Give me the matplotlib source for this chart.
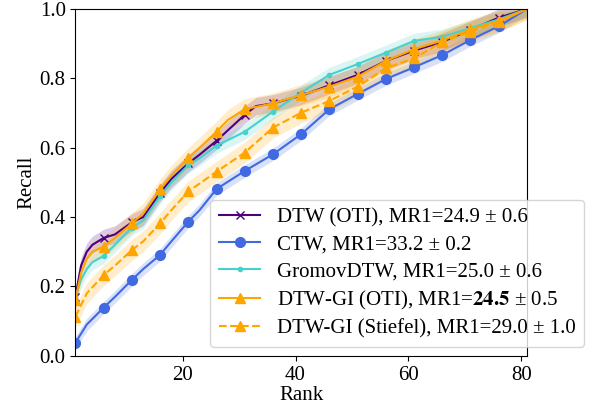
import matplotlib
matplotlib.use("Agg")
import matplotlib.pyplot as plt
import numpy as np

plt.rcParams['font.family'] = ['Liberation Serif', 'DejaVu Serif']
plt.rcParams['mathtext.fontset'] = 'stix'

# ---- data ----
dtw_oti_rank = [1, 2, 3, 4, 6, 8, 11, 13, 16, 18, 21, 23, 26, 28, 31, 33, 36, 41, 46, 51, 56, 61, 66, 71, 76, 81]
dtw_oti_val = [0.17, 0.26, 0.30, 0.32, 0.34, 0.35, 0.385, 0.40, 0.47, 0.51, 0.555, 0.58, 0.62, 0.65, 0.695, 0.72,
               0.728, 0.75, 0.78, 0.81, 0.85, 0.88, 0.905, 0.94, 0.975, 1.0]
dtw_oti_std = 0.025

ctw_rank = [1, 3, 6, 8, 11, 13, 16, 18, 21, 23, 26, 31, 36, 41, 46, 51, 56, 61, 66, 71, 76, 81]
ctw_val = [0.038, 0.09, 0.139, 0.17, 0.219, 0.25, 0.291, 0.33, 0.387, 0.42, 0.481, 0.533, 0.581, 0.639, 0.711,
           0.755, 0.798, 0.832, 0.867, 0.911, 0.95, 1.0]
ctw_std = 0.018

gromov_rank = [1, 2, 3, 4, 6, 8, 11, 13, 16, 18, 21, 23, 26, 31, 36, 41, 46, 51, 56, 61, 66, 71, 76, 81]
gromov_val = [0.17, 0.22, 0.25, 0.27, 0.288, 0.32, 0.37, 0.39, 0.46, 0.50, 0.55, 0.57, 0.606, 0.646, 0.704, 0.759,
              0.81, 0.841, 0.874, 0.908, 0.92, 0.945, 0.97, 1.0]
gromov_std = 0.022

gi_oti_rank = [1, 2, 3, 4, 6, 8, 11, 13, 16, 18, 21, 23, 26, 28, 31, 36, 41, 46, 51, 56, 61, 66, 71, 76, 81]
gi_oti_val = [0.16, 0.24, 0.28, 0.30, 0.315, 0.34, 0.382, 0.41, 0.48, 0.52, 0.570, 0.60, 0.646, 0.68, 0.711, 0.728,
              0.752, 0.776, 0.805, 0.850, 0.884, 0.909, 0.941, 0.966, 1.0]
gi_oti_std = 0.03

gi_st_rank = [1, 3, 6, 8, 11, 13, 16, 18, 21, 26, 31, 36, 41, 46, 51, 56, 61, 66, 71, 76, 81]
gi_st_val = [0.113, 0.18, 0.233, 0.26, 0.305, 0.33, 0.382, 0.42, 0.474, 0.531, 0.586, 0.658, 0.701, 0.735, 0.776,
             0.829, 0.858, 0.905, 0.935, 0.963, 1.0]
gi_st_std = 0.03

labels = ["DTW (OTI), MR1=24.9 ± 0.6",
          "CTW, MR1=33.2 ± 0.2",
          "GromovDTW, MR1=25.0 ± 0.6",
          r"DTW-GI (OTI), MR1=$\mathbf{24.5}$ ± 0.5",
          "DTW-GI (Stiefel), MR1=29.0 ± 1.0"]

series = [
    (dtw_oti_rank, dtw_oti_val, dtw_oti_std, 'indigo', 'x', 6, '-'),
    (ctw_rank, ctw_val, ctw_std, 'royalblue', 'o', 7, '-'),
    (gromov_rank, gromov_val, gromov_std, 'mediumturquoise', '.', 6, '-'),
    (gi_oti_rank, gi_oti_val, gi_oti_std, 'orange', '^', 7, '-'),
    (gi_st_rank, gi_st_val, gi_st_std, 'orange', '^', 7, '--'),
]

fig = plt.figure(figsize=(5.94, 4.09), dpi=100)
ax = fig.add_axes([0.127, 0.130, 0.760, 0.848])

for (r, v, s, c, m, ms, ls), lab in zip(series, labels):
    r = np.array(r)
    v = np.array(v)
    ax.fill_between(r, np.clip(v - s, 0, 1), np.clip(v + s, 0, 1), color=c, alpha=0.2, linewidth=0)
    idx = [i for i, rr in enumerate(r) if (rr - 1) % 5 == 0 and rr <= 76]
    ax.plot(r, v, color=c, linestyle=ls, marker=m, markersize=ms, markevery=idx, linewidth=1.5, label=lab)

ax.set_xlim(1, 81)
ax.set_ylim(0, 1)
ax.set_xticks([20, 40, 60, 80])
ax.set_yticks([0.0, 0.2, 0.4, 0.6, 0.8, 1.0])
ax.tick_params(labelsize=15)
ax.set_xlabel("Rank", fontsize=15, labelpad=1)
ax.set_ylabel("Recall", fontsize=15, labelpad=2)

ax.legend(loc='lower right', bbox_to_anchor=(1.127, 0.026), fontsize=15, borderaxespad=0,
          handlelength=2.0, labelspacing=0.35)

fig.savefig("out.png", dpi=100)
